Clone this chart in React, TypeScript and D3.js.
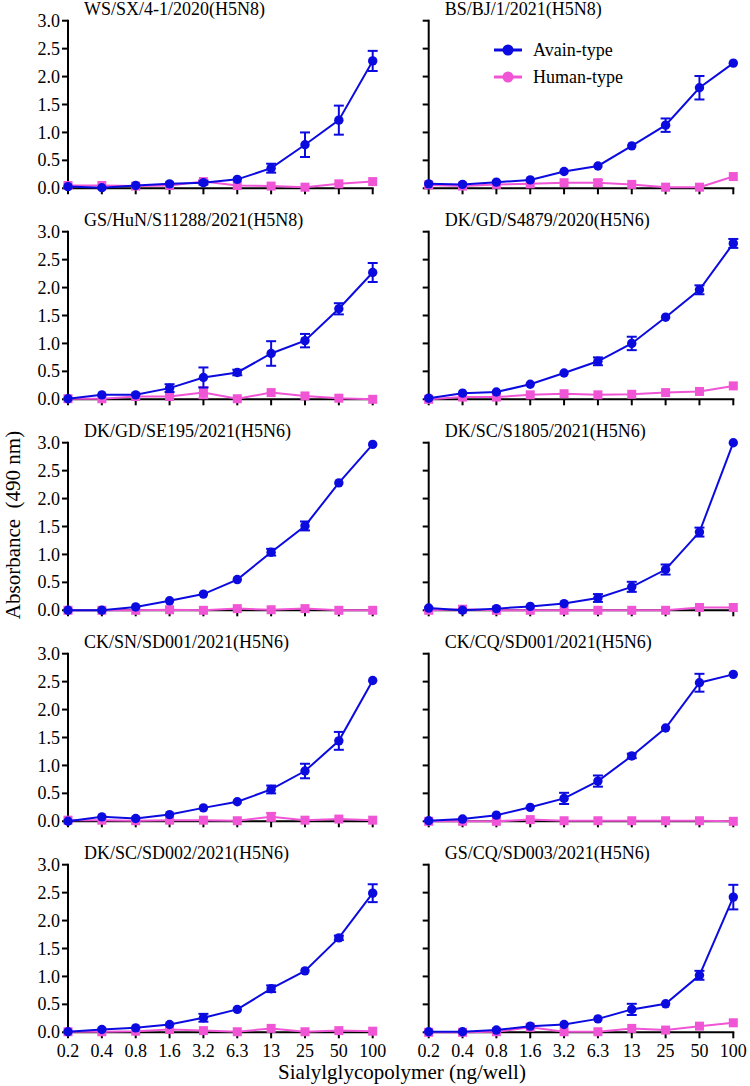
import React from "react";
import * as d3 from "d3";

const concentrations = ["0.2", "0.4", "0.8", "1.6", "3.2", "6.3", "13", "25", "50", "100"];
const yTickValues = [0, 0.5, 1.0, 1.5, 2.0, 2.5, 3.0];
const panelTitles = [
  "WS/SX/4-1/2020(H5N8)",
  "BS/BJ/1/2021(H5N8)",
  "GS/HuN/S11288/2021(H5N8)",
  "DK/GD/S4879/2020(H5N6)",
  "DK/GD/SE195/2021(H5N6)",
  "DK/SC/S1805/2021(H5N6)",
  "CK/SN/SD001/2021(H5N6)",
  "CK/CQ/SD001/2021(H5N6)",
  "DK/SC/SD002/2021(H5N6)",
  "GS/CQ/SD003/2021(H5N6)",
];
const seriesNames = ["Avain-type", "Human-type"];

const avianMean = [
  [0.03, 0.01, 0.05, 0.08, 0.10, 0.16, 0.36, 0.78, 1.22, 2.28],
  [0.08, 0.07, 0.11, 0.15, 0.30, 0.40, 0.76, 1.13, 1.80, 2.24],
  [0.01, 0.08, 0.08, 0.20, 0.39, 0.48, 0.82, 1.05, 1.62, 2.27],
  [0.02, 0.11, 0.13, 0.27, 0.47, 0.68, 1.00, 1.47, 1.96, 2.79],
  [0.00, 0.00, 0.06, 0.17, 0.29, 0.55, 1.04, 1.51, 2.28, 2.97],
  [0.04, 0.00, 0.03, 0.07, 0.12, 0.22, 0.42, 0.73, 1.40, 3.00],
  [0.00, 0.08, 0.05, 0.12, 0.24, 0.35, 0.57, 0.90, 1.44, 2.52],
  [0.01, 0.04, 0.11, 0.25, 0.41, 0.72, 1.17, 1.67, 2.48, 2.63],
  [0.01, 0.05, 0.08, 0.14, 0.26, 0.41, 0.78, 1.10, 1.69, 2.49],
  [0.01, 0.01, 0.04, 0.11, 0.14, 0.24, 0.41, 0.51, 1.02, 2.42],
];
const avianErr = [
  [0.01, 0.01, 0.01, 0.01, 0.03, 0.02, 0.08, 0.22, 0.26, 0.18],
  [0.01, 0.01, 0.01, 0.01, 0.01, 0.02, 0.02, 0.12, 0.21, 0.02],
  [0.01, 0.01, 0.01, 0.07, 0.18, 0.05, 0.22, 0.12, 0.10, 0.17],
  [0.01, 0.01, 0.01, 0.01, 0.01, 0.07, 0.12, 0.02, 0.08, 0.08],
  [0.00, 0.00, 0.01, 0.01, 0.01, 0.02, 0.06, 0.08, 0.02, 0.02],
  [0.01, 0.01, 0.01, 0.01, 0.01, 0.07, 0.09, 0.09, 0.08, 0.01],
  [0.00, 0.01, 0.01, 0.01, 0.01, 0.01, 0.07, 0.13, 0.16, 0.01],
  [0.00, 0.01, 0.01, 0.01, 0.10, 0.10, 0.04, 0.01, 0.16, 0.01],
  [0.00, 0.01, 0.01, 0.01, 0.07, 0.02, 0.06, 0.02, 0.04, 0.16],
  [0.00, 0.00, 0.01, 0.01, 0.01, 0.01, 0.10, 0.02, 0.08, 0.22],
];
const humanMean = [
  [0.05, 0.05, 0.04, 0.05, 0.12, 0.05, 0.04, 0.02, 0.08, 0.12],
  [0.06, 0.04, 0.07, 0.08, 0.10, 0.10, 0.07, 0.02, 0.02, 0.21],
  [0.01, 0.01, 0.05, 0.05, 0.12, 0.01, 0.12, 0.06, 0.02, 0.00],
  [0.00, 0.04, 0.04, 0.08, 0.10, 0.08, 0.09, 0.12, 0.14, 0.24],
  [0.00, 0.00, 0.00, 0.01, 0.00, 0.03, 0.01, 0.03, 0.00, 0.00],
  [0.00, 0.02, 0.00, 0.00, 0.00, 0.00, 0.00, 0.00, 0.05, 0.05],
  [0.02, 0.02, 0.01, 0.02, 0.02, 0.01, 0.08, 0.02, 0.04, 0.02],
  [0.00, 0.00, 0.00, 0.03, 0.01, 0.01, 0.01, 0.01, 0.01, 0.00],
  [0.01, 0.01, 0.02, 0.05, 0.03, 0.01, 0.07, 0.01, 0.03, 0.02],
  [0.00, 0.00, 0.01, 0.09, 0.01, 0.01, 0.07, 0.04, 0.11, 0.17],
];
const humanErr = [
  [0.01, 0.01, 0.01, 0.01, 0.03, 0.01, 0.01, 0.01, 0.01, 0.02],
  [0.01, 0.01, 0.01, 0.01, 0.01, 0.05, 0.01, 0.01, 0.01, 0.01],
  [0.00, 0.00, 0.01, 0.01, 0.10, 0.00, 0.01, 0.01, 0.00, 0.00],
  [0.00, 0.01, 0.01, 0.01, 0.01, 0.01, 0.01, 0.01, 0.01, 0.01],
  [0.00, 0.00, 0.00, 0.00, 0.00, 0.00, 0.00, 0.00, 0.00, 0.00],
  [0.00, 0.00, 0.00, 0.00, 0.00, 0.00, 0.00, 0.00, 0.01, 0.01],
  [0.00, 0.00, 0.00, 0.00, 0.00, 0.00, 0.07, 0.00, 0.01, 0.00],
  [0.00, 0.00, 0.00, 0.01, 0.00, 0.00, 0.00, 0.00, 0.00, 0.00],
  [0.00, 0.00, 0.00, 0.01, 0.01, 0.00, 0.01, 0.00, 0.01, 0.00],
  [0.00, 0.00, 0.00, 0.01, 0.00, 0.00, 0.01, 0.01, 0.01, 0.01],
];

const BLUE = "#0b0be0";
const PINK = "#f055d6";
const FONT = "'Liberation Serif', 'Times New Roman', serif";

const W = 750;
const H = 1086;
const colX0 = [68, 428.7];
const colX1 = [372.7, 733.3];
const rowBase0 = 188.3;
const rowPitch = 211;
const plotH = 167.6;

function Panel({ idx }: { idx: number }) {
  const col = idx % 2;
  const row = Math.floor(idx / 2);
  const x0 = colX0[col];
  const x1 = colX1[col];
  const yBot = rowBase0 + rowPitch * row;
  const yTop = yBot - plotH;
  const x = d3.scalePoint<string>().domain(concentrations).range([x0, x1]);
  const y = d3.scaleLinear().domain([0, 3]).range([yBot, yTop]);
  const line = d3
    .line<number>()
    .x((_, i) => x(concentrations[i]) as number)
    .y((d) => y(d));

  const series = [
    { mean: humanMean[idx], err: humanErr[idx], color: PINK, shape: "square" },
    { mean: avianMean[idx], err: avianErr[idx], color: BLUE, shape: "circle" },
  ];

  return (
    <g>
      <text x={x0 + 16} y={yBot - 173} fontFamily={FONT} fontSize={18} fill="#000">
        {panelTitles[idx]}
      </text>
      {/* y axis */}
      <line x1={x0} x2={x0} y1={yTop - 1} y2={yBot} stroke="#000" strokeWidth={2} />
      {yTickValues.map((t) => (
        <g key={t}>
          <line x1={x0 - 6} x2={x0} y1={y(t)} y2={y(t)} stroke="#000" strokeWidth={2} />
          {col === 0 && (
            <text
              x={x0 - 8}
              y={y(t)}
              dy="0.34em"
              textAnchor="end"
              fontFamily={FONT}
              fontSize={18}
              fill="#000"
            >
              {d3.format(".1f")(t)}
            </text>
          )}
        </g>
      ))}
      {/* x axis */}
      <line x1={x0 - 1} x2={x1 + 1} y1={yBot} y2={yBot} stroke="#000" strokeWidth={2} />
      {concentrations.map((c) => (
        <g key={c}>
          <line x1={x(c)} x2={x(c)} y1={yBot} y2={yBot + 6} stroke="#000" strokeWidth={2} />
          {row === 4 && (
            <text
              x={x(c)}
              y={yBot + 25}
              textAnchor="middle"
              fontFamily={FONT}
              fontSize={18}
              fill="#000"
            >
              {c}
            </text>
          )}
        </g>
      ))}
      {series.map((s, si) => (
        <g key={si}>
          <path d={line(s.mean) || ""} fill="none" stroke={s.color} strokeWidth={2} />
          {s.mean.map((m, i) => {
            const cx = x(concentrations[i]) as number;
            const e = s.err[i];
            if (e < 0.03) return null;
            const yHi = y(m + e);
            const yLo = y(Math.max(0, m - e));
            return (
              <g key={"e" + i} stroke={s.color} strokeWidth={2}>
                <line x1={cx} x2={cx} y1={yHi} y2={yLo} />
                <line x1={cx - 5} x2={cx + 5} y1={yHi} y2={yHi} />
                <line x1={cx - 5} x2={cx + 5} y1={yLo} y2={yLo} />
              </g>
            );
          })}
          {s.mean.map((m, i) => {
            const cx = x(concentrations[i]) as number;
            const cy = y(m);
            return s.shape === "circle" ? (
              <circle key={"m" + i} cx={cx} cy={cy} r={4.7} fill={s.color} />
            ) : (
              <rect key={"m" + i} x={cx - 4.5} y={cy - 4.5} width={9} height={9} fill={s.color} />
            );
          })}
        </g>
      ))}
    </g>
  );
}

export default function App() {
  const legendY = [50, 77];
  const legendColors = [BLUE, PINK];
  return (
    <svg
      width={W}
      height={H}
      style={{ position: "absolute", left: 0, top: 0, background: "#fff" }}
    >
      <rect x={0} y={0} width={W} height={H} fill="#fff" />
      {panelTitles.map((_, i) => (
        <Panel key={i} idx={i} />
      ))}
      {seriesNames.map((n, i) => (
        <g key={n}>
          <line x1={494} x2={522} y1={legendY[i]} y2={legendY[i]} stroke={legendColors[i]} strokeWidth={3} />
          <circle cx={508} cy={legendY[i]} r={5.5} fill={legendColors[i]} />
          <text x={533} y={legendY[i]} dy="0.34em" fontFamily={FONT} fontSize={18} fill="#000">
            {n}
          </text>
        </g>
      ))}
      <text
        transform="translate(19.5,525) rotate(-90)"
        textAnchor="middle"
        fontFamily={FONT}
        fontSize={21}
        fill="#000"
        style={{ whiteSpace: "pre" }}
      >
        {"Absorbance  (490 nm)"}
      </text>
      <text x={402} y={1079} textAnchor="middle" fontFamily={FONT} fontSize={21} fill="#000">
        Sialylglycopolymer (ng/well)
      </text>
    </svg>
  );
}
